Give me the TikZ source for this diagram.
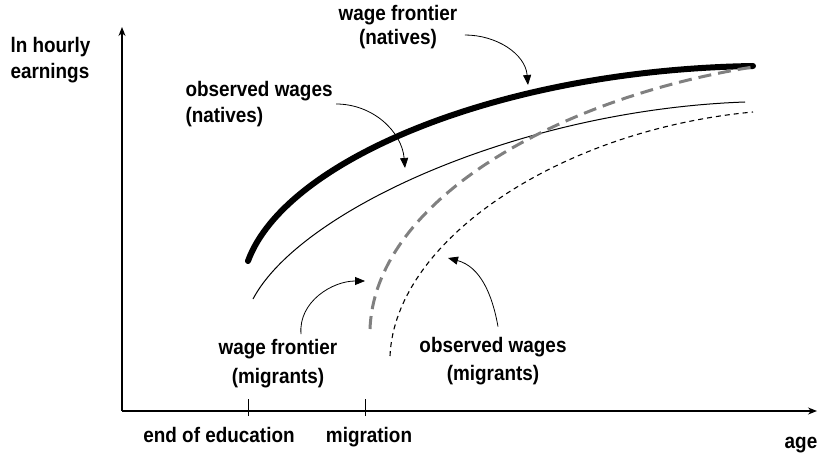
\documentclass[tikz,border=0pt]{standalone}
\usepackage{fontspec}
\setmainfont{Liberation Sans}[FakeStretch=0.9]
\usetikzlibrary{arrows.meta}

\begin{document}
\begin{tikzpicture}[x=1pt, y=1pt, line width=1pt,
  lbl/.style={font=\fontsize{21}{26}\selectfont\bfseries, inner sep=0pt, align=center},
  pointer/.style={-{Triangle[length=10pt,width=8pt]}, line width=0.8pt},
  axis/.style={-{Stealth[length=9pt,width=7pt]}, line width=1.2pt},
  frontier/.style={line width=6pt, line cap=round},
  observed/.style={line width=1pt},
  migfrontier/.style={gray, line width=3pt, dash pattern=on 13pt off 7pt},
  migobserved/.style={line width=1.1pt, dash pattern=on 5pt off 4pt}]
  \useasboundingbox (0,0) rectangle (818,456);

  \coordinate (o) at (122,45);
  \draw[axis] (o) -- (122,429);
  \draw[axis] (o) -- (817,45);
  \draw (248,40) -- (248,57);
  \draw (365,40) -- (365,57);

  \node[lbl, anchor=base] (edu) at (219,14) {end of education};
  \node[lbl, anchor=base] (mig) at (369,14) {migration};
  \node[lbl, anchor=base] (age) at (801,8) {age};
  \node[lbl, anchor=west, align=left] (earn) at (10,396) {ln hourly\\earnings};

  \draw[frontier] (248,195) .. controls (285,296) and (500,386) .. (753,390);
  \draw[observed] (253,157) .. controls (300,246) and (520,346) .. (745,354);
  \draw[migfrontier] (370,127) .. controls (375,256) and (558,358) .. (753,389);
  \draw[migobserved] (390,100) .. controls (395,216) and (560,326) .. (753,344);

  \node[lbl, font=\fontsize{21}{24}\selectfont\bfseries] (wfn) at (398,429) {wage frontier\\(natives)};
  \node[lbl, anchor=west, align=left] (own) at (185,352) {observed wages\\(natives)};
  \node[lbl, font=\fontsize{21}{29}\selectfont\bfseries] (wfm) at (278,92) {wage frontier\\(migrants)};
  \node[lbl, font=\fontsize{21}{28}\selectfont\bfseries] (owm) at (493,95) {observed wages\\(migrants)};

  \coordinate (wfn tip) at (528,371);
  \coordinate (own tip) at (405,288);
  \coordinate (wfm tip) at (365,175);
  \coordinate (owm tip) at (448,198);

  \draw[pointer] ([shift={(7pt,-8pt)}]wfn.east) to[out=0, in=95] (wfn tip);
  \draw[pointer] ([xshift=3pt]own.east) to[out=0, in=95] (own tip);
  \draw[pointer] ([shift={(23pt,5pt)}]wfm.north) to[out=95, in=180] (wfm tip);
  \draw[pointer] ([shift={(5pt,10pt)}]owm.north) to[out=100, in=-15] (owm tip);
\end{tikzpicture}
\end{document}
